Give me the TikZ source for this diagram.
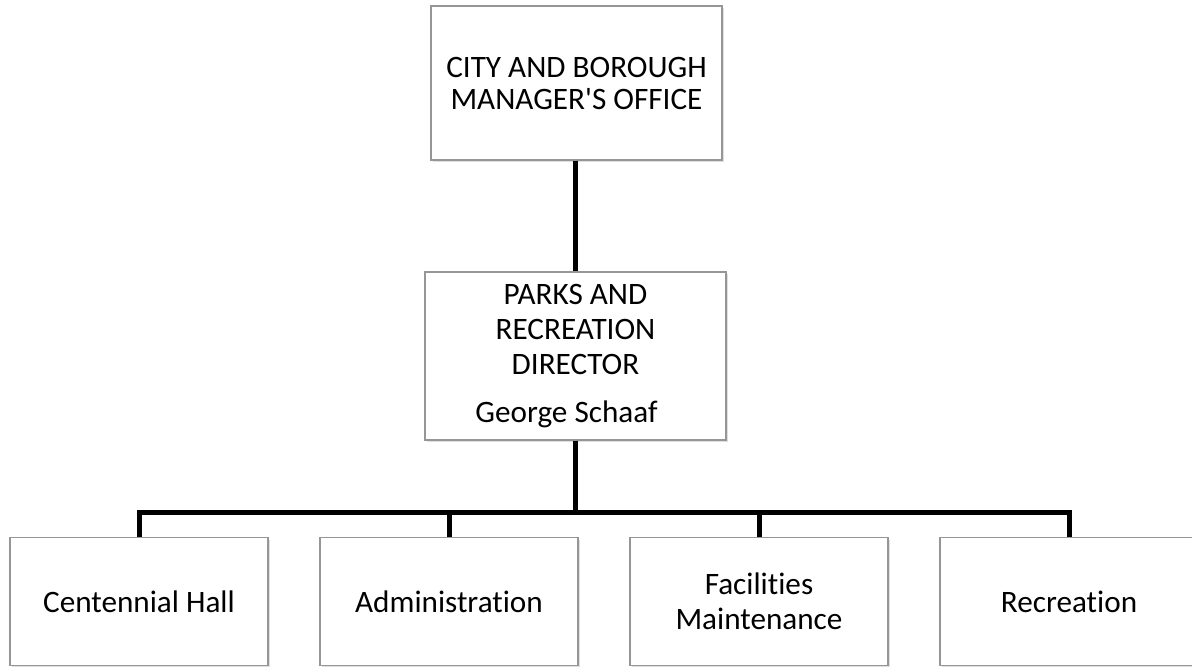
\documentclass[tikz,border=0pt]{standalone}
\usepackage{fontspec}
\setmainfont{Carlito}[Ligatures=NoCommon]
\usetikzlibrary{positioning, shadows}
\definecolor{boxgray}{RGB}{150,150,150}

\begin{document}
\begin{tikzpicture}[
    x=0.5pt, y=-0.5pt,
    box/.style={draw=boxgray, fill=white, line width=0.6pt, minimum width=129pt, minimum height=64pt, align=center,
        font=\fontsize{15.6}{17.5}\selectfont, drop shadow={shadow xshift=1pt, shadow yshift=-1pt, opacity=0.25}},
    conn/.style={line width=2.5pt, black}
]
    \useasboundingbox (0,0) rectangle (1192,667);

    \node[box, minimum width=145.5pt, minimum height=77pt, font=\fontsize{15.6}{16}\selectfont] (mgr) at (576.5,83) {CITY AND BOROUGH\\MANAGER\textquotesingle S OFFICE};
    \node[box, minimum width=150.5pt, minimum height=84pt] (dir) at (575.5,356) {PARKS AND\\RECREATION\\DIRECTOR\\[6.5pt]George Schaaf\hspace*{9pt}};

    \node[box] (hall) at (139,601.5) {Centennial Hall};
    \node[box] (admin) at (449,601.5) {Administration};
    \node[box] (fac) at (759,601.5) {Facilities\\Maintenance};
    \node[box] (rec) at (1069,601.5) {Recreation};

    \coordinate (bus) at (575,512);

    \draw[conn] (mgr.south -| bus) -- (dir.north -| bus);
    \draw[conn] (dir.south -| bus) -- (bus);
    \draw[conn, line join=miter] (hall.north) |- (bus) -| (rec.north);
    \draw[conn] (admin.north) -- (admin.north |- bus);
    \draw[conn] (fac.north) -- (fac.north |- bus);
\end{tikzpicture}
\end{document}
